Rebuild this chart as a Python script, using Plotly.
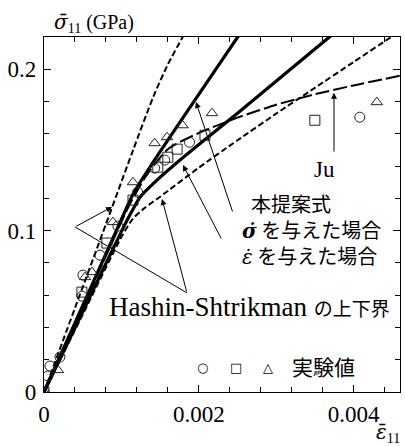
import plotly.graph_objects as go

# ---- curves (strain, stress in GPa) ----
hs_upper_x = [0, 0.0004, 0.0008, 0.00115, 0.00141, 0.0016, 0.00179, 0.0019]
hs_upper_y = [0, 0.052, 0.104, 0.1498, 0.1827, 0.203, 0.2198, 0.229]

sigma_dot_x = [0, 0.0005, 0.001, 0.00115, 0.00125, 0.0015, 0.002, 0.0025, 0.0026]
sigma_dot_y = [0, 0.0535, 0.107, 0.1225, 0.1305, 0.149, 0.1845, 0.2198, 0.227]

eps_dot_x = [0, 0.0005, 0.001, 0.00113, 0.00124, 0.00146, 0.0018, 0.0025, 0.0037, 0.0038]
eps_dot_y = [0, 0.0497, 0.0994, 0.1115, 0.1207, 0.1313, 0.1455, 0.1728, 0.2205, 0.2245]

hs_lower_x = [0, 0.0005, 0.001, 0.00115, 0.0013, 0.0015, 0.002, 0.0025, 0.003, 0.0035, 0.004, 0.0045, 0.0047]
hs_lower_y = [0, 0.048, 0.096, 0.1075, 0.114, 0.121, 0.139, 0.156, 0.1725, 0.1885, 0.2045, 0.2205, 0.227]

ju_x = [0, 0.0006, 0.0011, 0.0013, 0.0016, 0.002, 0.0025, 0.003, 0.0035, 0.004, 0.0046]
ju_y = [0, 0.063, 0.1155, 0.1325, 0.1505, 0.1605, 0.170, 0.178, 0.1845, 0.190, 0.196]

# ---- experimental data ----
circ_x = [0, 0.00005, 0.000077, 0.000206, 0.00049, 0.000503, 0.000723, 0.000955, 0.00121, 0.00143, 0.00156, 0.00188, 0.00408]
circ_y = [0, 0.0099, 0.0161, 0.0217, 0.0594, 0.0724, 0.0848, 0.1028, 0.1238, 0.1387, 0.1437, 0.1548, 0.1703]

sq_x = [0, 0.00049, 0.000813, 0.00115, 0.00147, 0.0016, 0.00172, 0.00208, 0.0035]
sq_y = [0, 0.0619, 0.0923, 0.1189, 0.1393, 0.1455, 0.1505, 0.1591, 0.1684]

tri_x = [0, 0.00018, 0.00053, 0.00062, 0.00089, 0.00115, 0.00143, 0.00159, 0.00179, 0.00217, 0.0043]
tri_y = [0, 0.0136, 0.0712, 0.0743, 0.1053, 0.130, 0.1542, 0.1579, 0.1653, 0.1728, 0.1796]

x_range = [0, 0.0046]
y_range = [0, 0.22]

SERIF = "Liberation Serif"
JP = "Noto Sans CJK JP"

fig = go.Figure()

def curve(x, y, width, dash):
    fig.add_trace(go.Scatter(x=x, y=y, mode="lines",
                             line=dict(color="black", width=width, dash=dash,
                                       shape="spline", smoothing=0.6),
                             showlegend=False, hoverinfo="skip"))

curve(hs_upper_x, hs_upper_y, 2, "6px,3px")
curve(hs_lower_x, hs_lower_y, 2, "6px,3px")
curve(ju_x, ju_y, 2, "14px,4px")
curve(sigma_dot_x, sigma_dot_y, 3.2, "solid")
curve(eps_dot_x, eps_dot_y, 3.2, "solid")

for xs, ys, sym in [(circ_x, circ_y, "circle-open"), (sq_x, sq_y, "square-open"),
                    (tri_x, tri_y, "triangle-up-open")]:
    fig.add_trace(go.Scatter(x=xs, y=ys, mode="markers",
                             marker=dict(symbol=sym, size=10, color="#222",
                                         line=dict(width=1, color="#222")),
                             showlegend=False, hoverinfo="skip"))

ann = []

def arrow(x0, y0, x1, y1):
    ann.append(dict(x=x1, y=y1, ax=x0, ay=y0, xref="x", yref="y", axref="x", ayref="y",
                    text="", showarrow=True, arrowhead=2, arrowsize=1.2,
                    arrowwidth=1, arrowcolor="black"))

# Hashin-Shtrikman arrows
fig.add_shape(type="line", x0=0.001848, y0=0.0614, x1=0.000401, y1=0.1023,
              xref="x", yref="y", line=dict(color="black", width=1))
arrow(0.000401, 0.1023, 0.000879, 0.1147)
arrow(0.001848, 0.0614, 0.001525, 0.1196)
# proposed model arrows
arrow(0.002442, 0.1109, 0.001964, 0.1797)
arrow(0.0023, 0.0942, 0.001796, 0.1407)
# Ju arrow
arrow(0.003747, 0.1481, 0.003747, 0.1855)

def txt(x, y, t, size, fam, xanchor="left"):
    ann.append(dict(x=x, y=y, xref="x", yref="y", text=t, showarrow=False,
                    xanchor=xanchor, yanchor="middle", align="left",
                    font=dict(family=fam, size=size, color="black")))

txt(0.00081, 0.0527,
    "Hashin-Shtrikman <span style='font-family:Noto Sans CJK JP;font-size:19px'>の上下界</span>",
    27, SERIF)
txt(0.00253, 0.1010,
    "&nbsp;&nbsp;本提案式<br>"
    "<span style='font-family:DejaVu Serif;font-size:20px'><b><i>σ̇</i></b></span> を与えた場合<br>"
    "<span style='font-family:DejaVu Serif;font-size:20px'><i>ε̇</i></span> を与えた場合",
    20, JP)
txt(0.00363, 0.1376, "Ju", 23, SERIF, xanchor="center")

# experimental legend
txt(0.002042, 0.0149, "○", 13, "DejaVu Sans", xanchor="center")
txt(0.002481, 0.0149, "□", 13, "DejaVu Sans", xanchor="center")
txt(0.002894, 0.0149, "△", 13, "DejaVu Sans", xanchor="center")
txt(0.00318, 0.0161, "実験値", 21, JP)

# axis titles
ann.append(dict(x=0.258, y=1.04, xref="paper", yref="paper", xanchor="right", yanchor="middle",
                text="<span style='font-family:DejaVu Serif'><i>σ̄</i></span><sub>11</sub> (GPa)",
                showarrow=False,
                font=dict(family=SERIF, size=20, color="black")))
ann.append(dict(x=1.006, y=-0.116, xref="paper", yref="paper", xanchor="right", yanchor="middle",
                text="<span style='font-family:DejaVu Serif'><i>ε̄</i></span><sub>11</sub>",
                showarrow=False,
                font=dict(family=SERIF, size=20, color="black")))

axis_common = dict(showline=True, linecolor="black", linewidth=1.2, mirror="ticks",
                   ticks="inside", ticklen=7, tickcolor="black", tickwidth=1,
                   showgrid=False, zeroline=False, automargin=False,
                   tickfont=dict(family=SERIF, size=23, color="black"))

fig.update_layout(
    width=405, height=446,
    margin=dict(l=44, r=5, t=37, b=54),
    paper_bgcolor="white", plot_bgcolor="white",
    annotations=ann,
    xaxis=dict(range=x_range, dtick=0.002, tick0=0,
               minor=dict(dtick=0.0004, tick0=0, ticks="inside", ticklen=5, tickcolor="black"),
               ticklabelstandoff=1, **axis_common),
    yaxis=dict(range=y_range, dtick=0.1, tick0=0,
               minor=dict(dtick=0.02, tick0=0, ticks="inside", ticklen=5, tickcolor="black"),
               ticklabelstandoff=2, **axis_common),
)

fig.write_html("out.html", config={"displayModeBar": False},
               post_script="document.body.style.margin='0';document.body.style.padding='0';")
